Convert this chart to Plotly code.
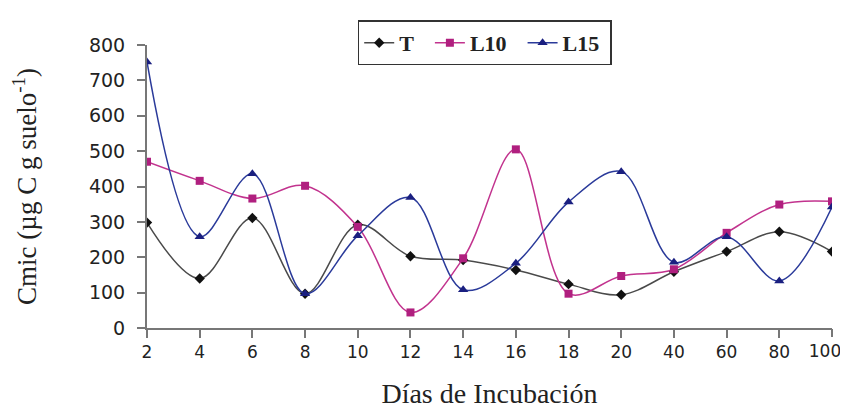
import plotly.graph_objects as go

dias = ["2", "4", "6", "8", "10", "12", "14", "16", "18", "20", "40", "60", "80", "100"]
T = [298, 140, 311, 97, 292, 203, 192, 164, 124, 94, 159, 216, 272, 216]
L10 = [470, 416, 366, 402, 286, 44, 197, 505, 97, 147, 166, 269, 349, 358]
L15 = [752, 258, 436, 97, 261, 369, 108, 183, 356, 442, 186, 258, 133, 342]

y_ticks = [0, 100, 200, 300, 400, 500, 600, 700, 800]

x_idx = list(range(len(dias)))
sp = "&nbsp;"
axis_grey = "#777777"
tick_font = dict(family="DejaVu Sans", size=17, color="#222222")

fig = go.Figure()
fig.add_trace(go.Scatter(
    x=x_idx, y=T, name="<b>T</b>" + sp * 2, mode="lines+markers",
    line=dict(color="#4a4a4a", width=1.5, shape="spline", smoothing=1.0),
    marker=dict(symbol="diamond", size=8, color="#111111"),
))
fig.add_trace(go.Scatter(
    x=x_idx, y=L10, name="<b>L10</b>" + sp * 2, mode="lines+markers",
    line=dict(color="#C2338E", width=1.5, shape="spline", smoothing=1.0),
    marker=dict(symbol="square", size=8, color="#B01F7F"),
))
fig.add_trace(go.Scatter(
    x=x_idx, y=L15, name="<b>L15</b>" + sp, mode="lines+markers",
    line=dict(color="#2A3A9A", width=1.5, shape="spline", smoothing=1.0),
    marker=dict(symbol="triangle-up", size=9, color="#1A1F80"),
))
# helper trace so the overlaid axis (carrying the last label) is drawn
fig.add_trace(go.Scatter(x=[x_idx[-1]], y=[None], xaxis="x2", yaxis="y",
                         showlegend=False, hoverinfo="skip", mode="markers"))

fig.update_layout(
    width=840, height=401,
    margin=dict(l=139, r=16, t=32, b=81),
    paper_bgcolor="white", plot_bgcolor="white",
    font=dict(family="DejaVu Sans", size=18, color="#222222"),
    showlegend=True,
    legend=dict(
        orientation="h", x=0.493, y=1.087, xanchor="center", yanchor="top",
        bordercolor="#333333", borderwidth=1.5, bgcolor="white",
        font=dict(family="Liberation Serif, Times New Roman", size=22, color="#222222"),
        tracegroupgap=0,
    ),
    xaxis=dict(
        tickmode="array", tickvals=x_idx[:-1], ticktext=dias[:-1],
        range=[0, len(dias) - 1],
        showgrid=False, zeroline=False,
        showline=True, linecolor=axis_grey, linewidth=2,
        ticks="outside", ticklen=8, tickwidth=2, tickcolor=axis_grey,
        tickfont=tick_font,
        title=dict(text="Días de Incubación",
                   font=dict(family="Liberation Serif, Times New Roman", size=28, color="#222222"),
                   standoff=31),
        automargin=False,
    ),
    xaxis2=dict(
        overlaying="x", matches="x", side="bottom", anchor="y",
        tickmode="array", tickvals=[x_idx[-1]], ticktext=[dias[-1]],
        ticks="outside", ticklen=8, tickwidth=2, tickcolor=axis_grey,
        ticklabelshift=-7, ticklabeloverflow="allow",
        tickfont=tick_font,
        showgrid=False, zeroline=False, showline=False,
        automargin=False,
    ),
    yaxis=dict(
        tickmode="array", tickvals=y_ticks, ticktext=[str(v) for v in y_ticks],
        range=[0, 800],
        showgrid=False, zeroline=False,
        showline=True, linecolor=axis_grey, linewidth=2,
        ticks="outside", ticklen=8, tickwidth=2, tickcolor=axis_grey,
        ticklabelstandoff=8,
        tickfont=dict(family="DejaVu Sans", size=19, color="#222222"),
        title=dict(text="Cmic (µg C g suelo<sup>-1</sup>)",
                   font=dict(family="Liberation Serif, Times New Roman", size=27, color="#222222"),
                   standoff=53),
        automargin=False,
    ),
)

fig.write_html("out.html")
